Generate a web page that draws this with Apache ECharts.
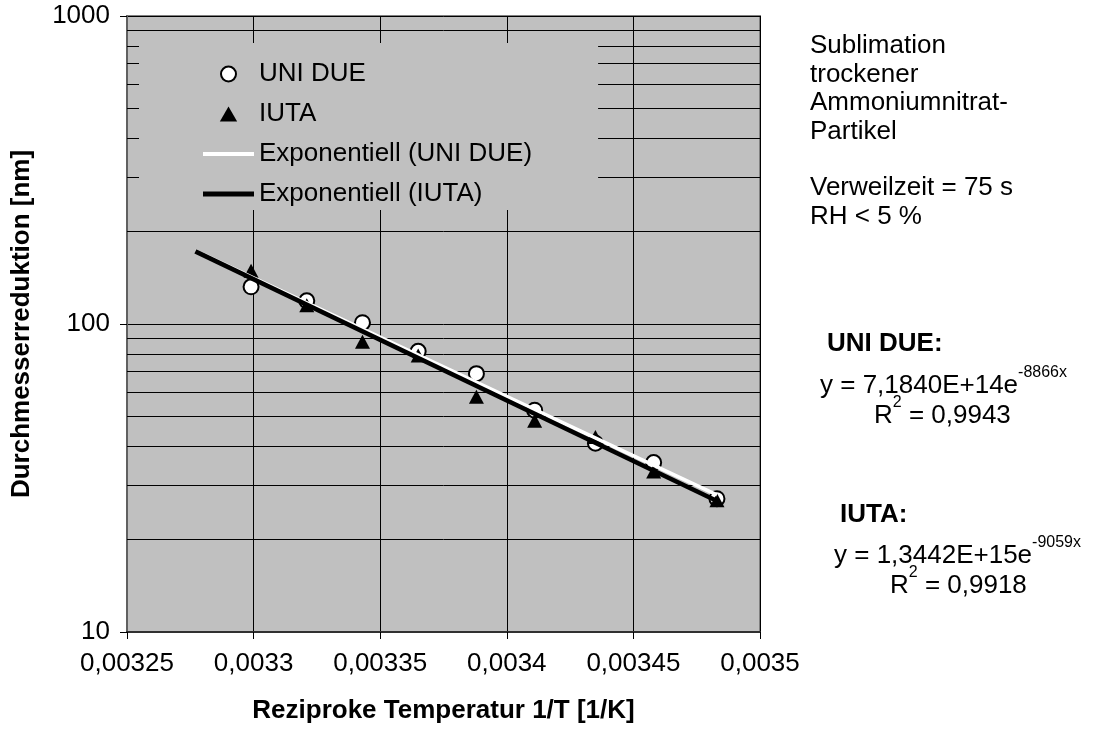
<!DOCTYPE html>
<html>
<head>
<meta charset="utf-8">
<script src="https://cdn.jsdelivr.net/npm/echarts@6/dist/echarts.min.js"></script>
<style>
  html, body { margin: 0; padding: 0; background: #ffffff; }
  #chart { width: 1093px; height: 740px; }
</style>
</head>
<body>
<div id="chart"></div>
<script>
// Reciprocal temperature 1/T [1/K] of the measurements
const xUniDue = [0.003299, 0.003321, 0.003343, 0.003365, 0.003388, 0.003411, 0.003435, 0.003458, 0.003483];
const yUniDue = [132, 119, 101, 81.5, 69, 52.5, 41, 35.5, 27.1];
const xIuta   = [0.003299, 0.003321, 0.003343, 0.003365, 0.003388, 0.003411, 0.003435, 0.003458, 0.003483];
const yIuta   = [149, 115, 87.5, 79, 58, 48.5, 43, 33.2, 26.8];

// Exponential fits y = a * e^(b x) and R², as printed beside the plot
const fitUniDue = [7.1840e14, -8866, 0.9943];
const fitIuta   = [1.3442e15, -9059, 0.9918];
const fitRange  = [0.003277, 0.003483];

// Axis ticks
const xTickValues = [0.00325, 0.0033, 0.00335, 0.0034, 0.00345, 0.0035];
const yMajorTicks = [10, 100, 1000];
const yMinorTicks = [20, 30, 40, 50, 60, 70, 80, 90, 200, 300, 400, 500, 600, 700, 800, 900];

const FONT = '"Liberation Sans", Arial, sans-serif';
const FS = 26;

function pairs(xs, ys) { return xs.map((x, i) => [x, ys[i]]); }
function fitLine(fit) { return fitRange.map(x => [x, fit[0] * Math.exp(fit[1] * x)]); }
function fmtDe(v) { return String(v).replace('.', ','); }

const chart = echarts.init(document.getElementById('chart'), null, { renderer: 'canvas' });

const option = {
  animation: false,
  backgroundColor: '#ffffff',
  textStyle: { fontFamily: FONT },
  grid: {
    left: 127, right: 333, top: 16, bottom: 108,
    show: true, backgroundColor: '#c0c0c0', borderColor: '#808080', borderWidth: 2
  },
  xAxis: {
    type: 'value',
    min: xTickValues[0], max: xTickValues[xTickValues.length - 1], interval: 0.00005,
    name: 'Reziproke Temperatur 1/T [1/K]',
    nameLocation: 'middle', nameGap: 66,
    nameTextStyle: { fontFamily: FONT, fontSize: FS, fontWeight: 'bold', color: '#000' },
    axisLine: { show: true, onZero: false, lineStyle: { color: '#303030', width: 2 } },
    axisTick: { show: true, inside: false, length: 7, lineStyle: { color: '#000', width: 1 } },
    axisLabel: {
      margin: 19, fontFamily: FONT, fontSize: FS, color: '#000',
      formatter: v => {
        const hit = xTickValues.find(t => Math.abs(t - v) < 1e-9);
        return hit === undefined ? '' : fmtDe(hit);
      }
    },
    splitLine: { show: true, lineStyle: { color: '#000', width: 1 } }
  },
  yAxis: {
    type: 'log', logBase: 10, min: 10, max: 1000,
    name: 'Durchmesserreduktion [nm]',
    nameLocation: 'middle', nameGap: 92, nameRotate: 90,
    nameTextStyle: { fontFamily: FONT, fontSize: FS, fontWeight: 'bold', color: '#000' },
    axisLine: { show: true, lineStyle: { color: '#606060', width: 2 } },
    axisTick: { show: true, inside: false, length: 7, lineStyle: { color: '#000', width: 1 } },
    axisLabel: {
      margin: 17, fontFamily: FONT, fontSize: FS, color: '#000',
      formatter: v => {
        const hit = yMajorTicks.find(t => Math.abs(t - v) / t < 1e-6);
        return hit === undefined ? '' : String(hit);
      }
    },
    splitLine: { show: true, lineStyle: { color: '#000', width: 1 } }
  },
  legend: {
    orient: 'vertical', left: 139, top: 43,
    backgroundColor: '#c0c0c0',
    padding: [16, 66, 1, 64],
    itemWidth: 51, itemHeight: 15, itemGap: 10,
    symbolKeepAspect: true,
    textStyle: { fontFamily: FONT, fontSize: FS, color: '#000', lineHeight: 30 },
    data: [
      { name: 'UNI DUE', icon: 'circle' },
      { name: 'IUTA', icon: 'path://M7.5,0L15,13L0,13Z' },
      { name: 'Exponentiell (UNI DUE)', icon: 'path://M0,0H51V4H0Z' },
      { name: 'Exponentiell (IUTA)', icon: 'path://M0,0H51V5H0Z' }
    ]
  },
  series: [
    {
      name: 'UNI DUE', type: 'scatter', z: 2,
      data: pairs(xUniDue, yUniDue),
      symbol: 'circle', symbolSize: 15,
      itemStyle: { color: '#ffffff', borderColor: '#000000', borderWidth: 2, opacity: 1 },
      markLine: {
        silent: true, z: 1, symbol: ['none', 'none'],
        label: { show: false },
        lineStyle: { color: '#000', width: 1, type: 'solid' },
        emphasis: { disabled: true },
        data: yMinorTicks.map(v => ({ yAxis: v }))
      }
    },
    {
      name: 'IUTA', type: 'scatter', z: 2,
      data: pairs(xIuta, yIuta),
      symbol: 'triangle', symbolSize: [15, 14],
      itemStyle: { color: '#000000', borderWidth: 0, opacity: 1 }
    },
    {
      name: 'Exponentiell (UNI DUE)', type: 'line', z: 3,
      data: fitLine(fitUniDue),
      symbol: 'none', showSymbol: false,
      lineStyle: { color: '#ffffff', width: 3.5 },
      itemStyle: { color: '#ffffff', borderWidth: 0 }
    },
    {
      name: 'Exponentiell (IUTA)', type: 'line', z: 3,
      data: fitLine(fitIuta),
      symbol: 'none', showSymbol: false,
      lineStyle: { color: '#000000', width: 4.5 },
      itemStyle: { color: '#000000', borderWidth: 0 }
    }
  ],
  graphic: []
};

// Side notes: conditions and fit equations
const base = { fontFamily: FONT, fontSize: FS, fill: '#000' };
function note(text, x, y, bold) {
  return {
    type: 'text', x: x, y: y, silent: true,
    style: Object.assign({}, base, {
      text: text, fontWeight: bold ? 'bold' : 'normal',
      verticalAlign: 'middle', align: 'left'
    })
  };
}
function richNote(text, x, y) {
  return {
    type: 'text', x: x, y: y, silent: true,
    style: Object.assign({}, base, {
      text: text, verticalAlign: 'middle', align: 'left',
      rich: {
        n: { fontFamily: FONT, fontSize: FS, fill: '#000', lineHeight: 34, verticalAlign: 'bottom' },
        s: { fontFamily: FONT, fontSize: 16, fill: '#000', lineHeight: 34, verticalAlign: 'top' }
      }
    })
  };
}
function eqText(fit) {
  const a = fit[0].toExponential(4).replace('.', ',').replace('e+', 'E+');
  return '{n|y = ' + a + 'e}{s|' + fit[1] + 'x}';
}
function r2Text(fit) {
  return '{n|R}{s|2}{n| = ' + fmtDe(fit[2]) + '}';
}

option.graphic = [
  note('Sublimation', 810, 46),
  note('trockener', 810, 74.5),
  note('Ammoniumnitrat-', 810, 103),
  note('Partikel', 810, 131.5),
  note('Verweilzeit = 75 s', 810, 188),
  note('RH < 5 %', 810, 216.5),
  note('UNI DUE:', 827, 344, true),
  richNote(eqText(fitUniDue), 820, 382),
  richNote(r2Text(fitUniDue), 874, 412),
  note('IUTA:', 840, 515, true),
  richNote(eqText(fitIuta), 834, 552),
  richNote(r2Text(fitIuta), 890, 582)
];

chart.setOption(option);
</script>
</body>
</html>
